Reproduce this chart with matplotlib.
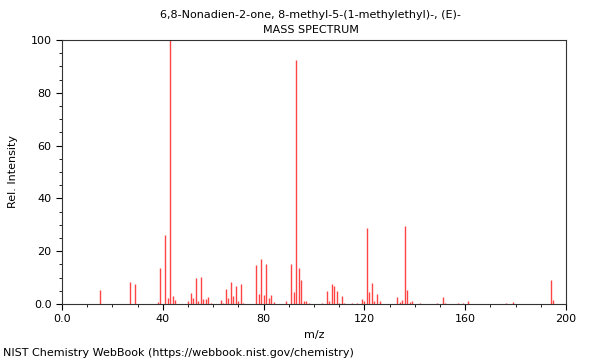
import matplotlib
matplotlib.use("Agg")
import matplotlib.pyplot as plt
from matplotlib.ticker import MultipleLocator, FuncFormatter

# peak list (m/z, relative intensity %)
mz = [15, 27, 29, 38, 39, 41, 42, 43, 44, 45,
      50, 51, 52, 53, 54, 55, 56, 57, 58, 59,
      63, 64, 65, 66, 67, 68, 69, 70, 71, 72,
      77, 78, 79, 80, 81, 82, 83, 84, 89, 91,
      92, 93, 94, 95, 96, 97, 98, 103, 105, 106,
      107, 108, 109, 110, 111, 112, 115, 117, 119, 120,
      121, 122, 123, 124, 125, 126, 133, 134, 135, 136,
      137, 138, 139, 142, 149, 151, 152, 157, 159, 161,
      176, 179, 194, 195]
intensity = [5.4, 8.5, 7.5, 0.7, 13.8, 26.2, 2.1, 100.0, 3.2, 1.5,
             1.1, 4.2, 2.3, 10.0, 1.3, 10.4, 1.7, 1.8, 2.5, 0.5,
             1.5, 0.5, 5.5, 2.1, 8.5, 3.0, 7.0, 1.1, 7.5, 0.5,
             14.7, 3.7, 16.9, 3.3, 15.3, 2.3, 3.5, 0.7, 1.0, 15.3,
             4.7, 92.5, 13.6, 8.9, 1.3, 1.3, 0.5, 0.5, 5.1, 1.0,
             7.6, 7.0, 5.0, 0.5, 3.0, 0.5, 0.5, 0.5, 1.8, 1.0,
             28.6, 4.4, 7.9, 1.0, 3.7, 1.0, 2.5, 0.7, 1.5, 29.5,
             5.2, 0.7, 1.0, 0.5, 0.5, 2.6, 0.5, 0.5, 0.5, 1.0,
             0.5, 0.7, 8.9, 1.5]

compound = "6,8-Nonadien-2-one, 8-methyl-5-(1-methylethyl)-, (E)-"

fig = plt.figure(figsize=(6, 3.6), dpi=100)
ax = fig.add_axes([0.1033, 0.1556, 0.84, 0.7333])

ax.vlines(mz, 0, intensity, colors="#ff4444", linewidth=1.0)

ax.set_xlim(0, 200)
ax.set_ylim(0, 100)
ax.xaxis.set_major_locator(MultipleLocator(40))
ax.xaxis.set_minor_locator(MultipleLocator(10))
ax.yaxis.set_major_locator(MultipleLocator(20))
ax.yaxis.set_minor_locator(MultipleLocator(5))
fmt = FuncFormatter(lambda v, p: "0.0" if v == 0 else f"{v:.0f}")
ax.xaxis.set_major_formatter(fmt)
ax.yaxis.set_major_formatter(fmt)
ax.tick_params(labelsize=8, length=4, width=0.8)
ax.tick_params(which="minor", length=2, width=0.6)
for s in ax.spines.values():
    s.set_linewidth(0.8)
    s.set_color("#333333")

ax.set_xlabel("m/z", fontsize=8)
ax.set_ylabel("Rel. Intensity", fontsize=8)
ax.yaxis.set_label_coords(-0.088, 0.5)

fig.text(0.5175, 0.958, compound, ha="center", va="center", fontsize=8)
fig.text(0.5175, 0.916, "MASS SPECTRUM", ha="center", va="center", fontsize=8)
fig.text(0.005, 0.02, "NIST Chemistry WebBook (https://webbook.nist.gov/chemistry)",
         ha="left", va="center", fontsize=8)

fig.savefig("out.png", dpi=100)
